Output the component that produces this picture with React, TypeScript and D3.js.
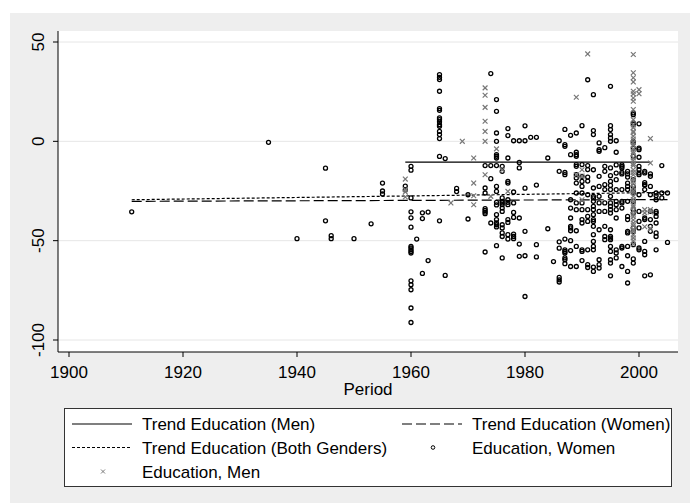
import React, { useEffect, useRef } from "react";
import * as d3 from "d3";

const xTicks = [1900, 1920, 1940, 1960, 1980, 2000];
const yTicks = [50, 0, -50, -100];

// Education, Women: [period, values read at that period]
const womenPoints: [number, number[]][] = [
  [1911, [-35.5]],
  [1935, [-0.5]],
  [1940, [-49]],
  [1945, [-13.5, -40]],
  [1946, [-47.5, -49]],
  [1950, [-49]],
  [1953, [-41.5]],
  [1955, [-21, -25, -26.5]],
  [1959, [-22.5, -24.5]],
  [1960, [-12.6, -14.5, -28.5, -35.5, -38.5, -43.2, -52.9, -53.7, -54.6, -55.4, -56.2, -70.2, -72.2, -74.7, -83.9, -91.2]],
  [1961, [-49.2]],
  [1962, [-36, -38.9, -66.5]],
  [1963, [-35.6, -60]],
  [1965, [33.6, 32.2, 31.1, 25.2, 16.5, 15.6, 11.8, 10.9, 9.8, 8.4, 7.6, 5, 3.4, 1.4, -7.6, -40]],
  [1966, [-8.7, -67.5]],
  [1968, [-23.7, -25.3]],
  [1970, [-26.9, -39.1]],
  [1973, [-12.2, -23.5, -26, -33.9, -34.8, -35.6, -36.4, -55.7]],
  [1974, [34.1, -12.2, -18.8, -41.1]],
  [1975, [21, 15.1, 4.2, 0, -6.7, -7.5, -8.4, -12.2, -22.7, -25.2, -30.7, -32, -36.9, -39.4, -41.1, -42, -43.1, -52.5]],
  [1976, [-12.6, -15.1, -28.5, -30.2, -31, -31.9, -33.6, -35.3, -42, -43.6, -46.1, -47.9, -58.7]],
  [1977, [6.4, 2.9, -8.4, -20.2, -21, -29.4, -30.7, -31.9, -39.4, -40.8, -47, -49.2]],
  [1978, [0.3, -25.5, -31, -35.8, -38.3, -46.7, -47.9, -49]],
  [1979, [0.3, -10.6, -13.4, -38.6, -51.7, -57.9]],
  [1980, [7.8, 0.3, -23.6, -45.3, -57.6, -78.1]],
  [1981, [2]],
  [1982, [2, -22, -52, -58.2]],
  [1984, [-8.4, -44]],
  [1985, [-60.5]],
  [1986, [0.3, -15.1, -50.6, -53.8, -68.5, -69.7, -70.8]],
  [1987, [6, -1.7, -2.5, -15.7, -16.8, -49.2, -54.6, -55.4, -56.2, -58.7, -59.6, -61.6]],
  [1988, [3, -6.7, -29.4, -33.6, -38.6, -42.8, -43.6, -45, -50, -55, -63]],
  [1989, [4.2, -5.5, -6.7, -7.5, -11.7, -12.6, -16.8, -18.4, -21, -26, -31, -34.4, -45, -52.9, -63]],
  [1990, [7.9, -11.7, -17.6, -20.2, -22.7, -26, -31, -34.4, -39.4, -41.1, -54.6, -55.4, -60]],
  [1991, [31, -12.2, -14.2, -18, -20, -26.9, -34.4, -37.8, -40.3, -54.6, -62.1, -63.5]],
  [1992, [23.5, 5.4, 3.4, -14.3, -23.5, -27.7, -28.5, -30.2, -32.7, -34.4, -36.9, -39.4, -40.3, -42.8, -47, -50.4, -52.9, -54.6, -63.3, -65.5]],
  [1993, [-0.8, -4.2, -5, -17.6, -22.7, -27.7, -31, -35.3, -44.5, -59.6, -62.1, -63.8]],
  [1994, [-3.2, -12.6, -15.1, -21.8, -24.3, -31, -35.3, -42.8, -47.9, -49.5]],
  [1995, [27.7, 7.9, 5.9, 3.4, 1.7, 0, -13.4, -17.3, -20.2, -22.2, -24.3, -27.7, -31, -32.7, -34.4, -36.1, -44.5, -47.9, -48.7, -49.5, -52.9, -55.4, -59.6, -61.3, -67.7]],
  [1996, [0.3, -5.5, -11.9, -16, -19.3, -24.3, -30.2, -31.9, -34.4, -38.6, -54.6, -56.2, -58.7]],
  [1997, [-11.9, -12.6, -13.4, -15.6, -16.4, -24.3, -30.2, -31, -33.6, -52.9, -53.7, -63]],
  [1998, [-15.1, -16.4, -18, -21, -22.7, -24.3, -30.2, -37.8, -39.4, -45.3, -46.1, -52.9, -57.6, -65.5, -71.3]],
  [1999, [14.3, 13.4, 9.3, 8.4, 0, -0.8, -3.4, -7.5, -19.3, -22.7, -25.2, -26, -30.2, -34.4, -36.1, -43.6, -45.3, -52, -59.2, -61.3]],
  [2000, [8.8, -3.4, -4.2, -8, -12.6, -14.3, -15.9, -16.8, -26.9, -35.3, -40.3, -43.6, -53.7, -54.6]],
  [2001, [-15.1, -15.9, -20.8, -21.8, -22, -24.3, -38.6, -39.4, -50.4, -55.4, -57.1, -67.7]],
  [2002, [-16.4, -17.6, -22.7, -26.9, -35.3, -39.4, -42.8, -45.3, -67.2]],
  [2003, [-26, -27.3, -29.4, -35.3, -36.1, -37.8, -41.1, -46.1, -47.9, -54.6]],
  [2004, [-12.2, -26, -28.5]],
  [2005, [-26, -50.9]],
];

// Education, Men
const menPoints: [number, number[]][] = [
  [1959, [-19, -24.3, -25.5, -28]],
  [1967, [-31]],
  [1969, [0]],
  [1971, [-8.4, -21, -27.4, -31.9]],
  [1973, [26.9, 23.2, 17.1, 10.1, 5, 0, -16.8]],
  [1974, [-27.7]],
  [1975, [-3.8]],
  [1976, [-14.4]],
  [1977, [-25.2]],
  [1989, [22.2, -16.8]],
  [1990, [-14.3, -17.5, -29.4]],
  [1991, [44]],
  [1999, [43.7, 34.5, 32, 29.9, 25.2, 23.9, 21.8, 20.2, 16, 10.9, 8.2, 6.9, 5.1, 4.4, 2.6, 1.2, -0.7, -1.9, -3.8, -5.2, -6.1, -8.3, -9.6, -11.2, -12.1, -14.3, -15.6, -16.8, -18.9, -20.1, -21.4, -23.2, -24.8, -25.9, -27.6, -29.3, -30.4, -32.2, -33.1, -35, -36.7, -37.9, -39.6, -41.2, -42.4, -44.3, -45.1, -47.2, -48.6, -50.1, -51.8]],
  [2000, [26, 24]],
  [2001, [-34.4, -36, -43]],
  [2002, [1.4, -10.9, -34.4, -35.5, -44]],
];

// fitted trends: start / end period and value
const trendMenPeriod = [1959, 2002];
const trendMenValue = [-10.5, -10.5];
const trendWomenPeriod = [1911, 2005];
const trendWomenValue = [-30.2, -29.3];
const trendBothPeriod = [1911, 2005];
const trendBothValue = [-29.4, -25.7];

const legendLabels = [
  "Trend Education (Men)",
  "Trend Education (Women)",
  "Trend Education (Both Genders)",
  "Education, Women",
  "Education, Men",
];

const FONT = "Arial, 'Liberation Sans', Helvetica, sans-serif";

function App() {
  const svgRef = useRef<SVGSVGElement>(null);
  const svgWidth = 690;
  const svgHeight = 503;

  useEffect(() => {
    const svg = d3.select(svgRef.current);
    svg.selectAll("*").remove();

    const plot = { left: 58, right: 678, top: 31, bottom: 352 };
    const x = d3.scaleLinear().domain([1900, 2000]).range([69, 639]);
    const y = d3.scaleLinear().domain([50, -100]).range([42, 340]);

    // graph region
    svg.append("rect").attr("x", 0).attr("y", 0).attr("width", svgWidth).attr("height", svgHeight).attr("fill", "#fff");
    svg.append("rect").attr("x", 10).attr("y", 13).attr("width", svgWidth - 10).attr("height", svgHeight - 13).attr("fill", "#eeeeee");
    svg
      .append("rect")
      .attr("x", plot.left)
      .attr("y", plot.top)
      .attr("width", plot.right - plot.left)
      .attr("height", plot.bottom - plot.top)
      .attr("fill", "#fff");

    // grid
    svg
      .append("g")
      .selectAll("line")
      .data(yTicks)
      .enter()
      .append("line")
      .attr("x1", plot.left)
      .attr("x2", plot.right)
      .attr("y1", (d) => y(d))
      .attr("y2", (d) => y(d))
      .attr("stroke", "#e6e6e6")
      .attr("stroke-width", 1);

    const g = svg.append("g");

    // trend lines
    const line = d3
      .line<[number, number]>()
      .x((d) => x(d[0]))
      .y((d) => y(d[1]));
    const trends = [
      { p: trendMenPeriod, v: trendMenValue, dash: null },
      { p: trendWomenPeriod, v: trendWomenValue, dash: "10,4" },
      { p: trendBothPeriod, v: trendBothValue, dash: "3,2" },
    ];
    trends.forEach((t) => {
      g.append("path")
        .attr("d", line(t.p.map((p, i) => [p, t.v[i]] as [number, number])))
        .attr("fill", "none")
        .attr("stroke", "#000")
        .attr("stroke-width", 1.2)
        .attr("stroke-dasharray", t.dash);
    });

    // women markers
    const women = womenPoints.flatMap(([p, vs]) => vs.map((v) => [p, v]));
    g.append("g")
      .selectAll("circle")
      .data(women)
      .enter()
      .append("circle")
      .attr("cx", (d) => x(d[0]))
      .attr("cy", (d) => y(d[1]))
      .attr("r", 2)
      .attr("fill", "none")
      .attr("stroke", "#000")
      .attr("stroke-width", 1.3);

    // men markers
    const men = menPoints.flatMap(([p, vs]) => vs.map((v) => [p, v]));
    const s = 2.4;
    g.append("g")
      .selectAll("path")
      .data(men)
      .enter()
      .append("path")
      .attr("transform", (d) => `translate(${x(d[0])},${y(d[1])})`)
      .attr("d", `M${-s},${-s}L${s},${s}M${-s},${s}L${s},${-s}`)
      .attr("stroke", "#777")
      .attr("stroke-width", 1.2)
      .attr("fill", "none");

    // axes
    const axisX = svg.append("g").attr("transform", `translate(0,${plot.bottom})`);
    axisX.append("line").attr("x1", plot.left).attr("x2", plot.right).attr("stroke", "#000");
    const xt = axisX.selectAll("g.tick").data(xTicks).enter().append("g").attr("transform", (d) => `translate(${x(d)},0)`);
    xt.append("line").attr("y2", 5).attr("stroke", "#000");
    xt.append("text")
      .attr("y", 26)
      .attr("text-anchor", "middle")
      .style("font-family", FONT)
      .style("font-size", "17px")
      .text((d) => d);

    const axisY = svg.append("g").attr("transform", `translate(${plot.left},0)`);
    axisY.append("line").attr("y1", plot.top).attr("y2", plot.bottom).attr("stroke", "#000");
    const yt = axisY.selectAll("g.tick").data(yTicks).enter().append("g").attr("transform", (d) => `translate(0,${y(d)})`);
    yt.append("line").attr("x2", -5).attr("stroke", "#000");
    yt.append("text")
      .attr("transform", "translate(-14.5,0) rotate(-90)")
      .attr("text-anchor", "middle")
      .style("font-family", FONT)
      .style("font-size", "17px")
      .text((d) => d);

    svg
      .append("text")
      .attr("x", (plot.left + plot.right) / 2)
      .attr("y", 395)
      .attr("text-anchor", "middle")
      .style("font-family", FONT)
      .style("font-size", "17px")
      .text("Period");

    // legend
    const lg = svg.append("g");
    lg.append("rect")
      .attr("x", 64.5)
      .attr("y", 408.5)
      .attr("width", 607)
      .attr("height", 78)
      .attr("fill", "#fff")
      .attr("stroke", "#333")
      .attr("stroke-width", 1);
    const cols = [72, 402];
    const rows = [424, 447.5, 471.5];
    legendLabels.forEach((label, i) => {
      const cx = cols[i % 2];
      const cy = rows[Math.floor(i / 2)];
      if (i < 3) {
        lg.append("line")
          .attr("x1", cx)
          .attr("x2", cx + 60)
          .attr("y1", cy)
          .attr("y2", cy)
          .attr("stroke", "#000")
          .attr("stroke-width", 1.1)
          .attr("stroke-dasharray", trends[i].dash);
      } else if (i === 3) {
        lg.append("circle").attr("cx", cx + 31).attr("cy", cy).attr("r", 1.8).attr("fill", "none").attr("stroke", "#000");
      } else {
        const m = 2;
        lg.append("path")
          .attr("transform", `translate(${cx + 31},${cy})`)
          .attr("d", `M${-m},${-m}L${m},${m}M${-m},${m}L${m},${-m}`)
          .attr("stroke", "#7a7a7a");
      }
      lg.append("text")
        .attr("x", cx + 70)
        .attr("y", cy + 6)
        .style("font-family", FONT)
        .style("font-size", "17px")
        .text(label);
    });
  }, []);

  return (
    <div>
      <svg ref={svgRef} width={svgWidth} height={svgHeight} style={{ position: "absolute", left: 0, top: 0 }}></svg>
    </div>
  );
}

export default App;
